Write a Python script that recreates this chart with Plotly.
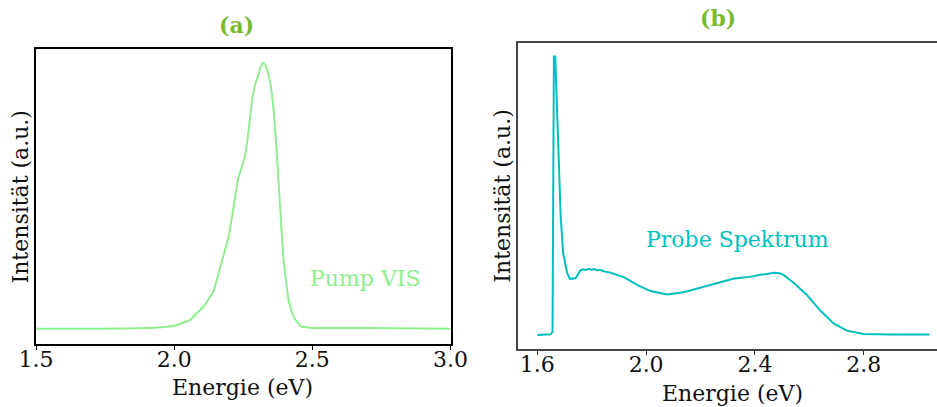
import plotly.graph_objects as go

# Panel (a): pump spectrum (normalized intensity, a.u.)
pump_energy = [1.50, 1.70, 1.93, 1.997, 2.034, 2.058, 2.082, 2.106, 2.142, 2.167, 2.197,
               2.221, 2.232, 2.245, 2.258, 2.270, 2.282, 2.295, 2.305, 2.314, 2.322, 2.333,
               2.340, 2.348, 2.360, 2.372, 2.384, 2.396, 2.414, 2.432, 2.457, 2.493, 2.70, 3.00]
pump_int = [0.007, 0.007, 0.011, 0.017, 0.030, 0.040, 0.065, 0.089, 0.146, 0.238, 0.350,
            0.500, 0.570, 0.610, 0.660, 0.750, 0.860, 0.925, 0.955, 0.985, 1.000, 0.985,
            0.960, 0.923, 0.823, 0.650, 0.450, 0.264, 0.114, 0.052, 0.017, 0.011, 0.010, 0.007]

# Panel (b): probe spectrum (normalized intensity, a.u.)
probe_energy = [1.600, 1.649, 1.656, 1.659, 1.661, 1.666, 1.671, 1.678, 1.686, 1.695, 1.710,
                1.720, 1.741, 1.757, 1.767, 1.777, 1.790, 1.800, 1.810, 1.820, 1.830, 1.845,
                1.869, 1.918, 1.967, 2.016, 2.077, 2.138, 2.212, 2.285, 2.320, 2.340, 2.358,
                2.380, 2.400, 2.420, 2.445, 2.469, 2.490, 2.505, 2.542, 2.591, 2.640,
                2.689, 2.738, 2.799, 2.900, 3.041]
probe_int = [0.000, 0.003, 0.012, 0.485, 1.000, 1.000, 0.844, 0.605, 0.425, 0.294, 0.222,
             0.202, 0.204, 0.231, 0.236, 0.234, 0.238, 0.234, 0.237, 0.233, 0.234, 0.229,
             0.224, 0.208, 0.180, 0.158, 0.146, 0.154, 0.174, 0.195, 0.202, 0.205, 0.208,
             0.209, 0.212, 0.217, 0.219, 0.224, 0.222, 0.216, 0.188, 0.144, 0.088,
             0.042, 0.016, 0.004, 0.002, 0.002]

FONT = "DejaVu Serif"
FS = 22
TITLE_COLOR = "#7cba32"
PUMP_COLOR = "#90ee90"
PROBE_COLOR = "#00bfbf"
W, H = 937, 407

fig = go.Figure()
fig.add_trace(go.Scatter(x=pump_energy, y=pump_int, mode="lines",
                         line=dict(color=PUMP_COLOR, width=2, shape="spline", smoothing=0.4),
                         xaxis="x", yaxis="y", showlegend=False, hoverinfo="skip"))
fig.add_trace(go.Scatter(x=probe_energy, y=probe_int, mode="lines",
                         line=dict(color=PROBE_COLOR, width=2), xaxis="x2", yaxis="y2",
                         showlegend=False, hoverinfo="skip"))

axis_font = dict(family=FONT, size=FS, color="#111")


def ann(text, px, py, color="#111", angle=0, size=FS):
    return dict(text=text, x=px / W, y=1 - py / H, xref="paper", yref="paper",
                xanchor="center", yanchor="middle", showarrow=False, textangle=angle,
                font=dict(family=FONT, size=size, color=color))


fig.update_layout(
    width=W, height=H,
    margin=dict(l=0, r=0, t=0, b=0),
    paper_bgcolor="white", plot_bgcolor="white",
    font=dict(family=FONT, size=FS, color="#111"),
    xaxis=dict(domain=[36/W, 450.5/W], range=[1.5, 3.0], anchor="y", automargin=False,
               tickvals=[1.5, 2.0, 2.5, 3.0], ticktext=["1.5", "2.0", "2.5", "3.0"],
               ticks="outside", ticklen=4, tickwidth=1, tickcolor="#000",
               ticklabelstandoff=-9,
               showline=True, linecolor="#000", linewidth=1.5, mirror=True,
               showgrid=False, zeroline=False, tickfont=axis_font),
    yaxis=dict(domain=[1-344/H, 1-49/H], range=[-0.05, 1.05], anchor="x", automargin=False,
               showticklabels=False, ticks="",
               showline=True, linecolor="#000", linewidth=1.5, mirror=True,
               showgrid=False, zeroline=False),
    xaxis2=dict(domain=[517.7/W, 1.0], range=[1.528, 3.069], anchor="y2", automargin=False,
                tickvals=[1.6, 2.0, 2.4, 2.8], ticktext=["1.6", "2.0", "2.4", "2.8"],
                ticks="outside", ticklen=4, tickwidth=1, tickcolor="#333",
                ticklabelstandoff=-9,
                showline=True, linecolor="#444", linewidth=2, mirror=True,
                showgrid=False, zeroline=False, tickfont=axis_font),
    yaxis2=dict(domain=[1-349/H, 1-42.7/H], range=[-0.05, 1.05], anchor="x2", automargin=False,
                showticklabels=False, ticks="",
                showline=True, linecolor="#444", linewidth=2, mirror=False,
                showgrid=False, zeroline=False),
    annotations=[
        ann("<b>(a)</b>", 236.7, 25, TITLE_COLOR),
        ann("<b>(b)</b>", 718.3, 18.3, TITLE_COLOR),
        ann("Energie (eV)", 242.8, 387),
        ann("Energie (eV)", 732.7, 393),
        ann("Intensität (a.u.)", 20, 197.5, angle=-90),
        ann("Intensität (a.u.)", 501.7, 196, angle=-90),
        dict(text="Pump VIS", x=2.692, y=0.193, xref="x", yref="y",
             xanchor="center", yanchor="middle", showarrow=False,
             font=dict(family=FONT, size=FS, color=PUMP_COLOR)),
        dict(text="Probe Spektrum", x=2.337, y=0.344, xref="x2", yref="y2",
             xanchor="center", yanchor="middle", showarrow=False,
             font=dict(family=FONT, size=FS, color=PROBE_COLOR)),
    ],
)

fig.write_html("out.html")
